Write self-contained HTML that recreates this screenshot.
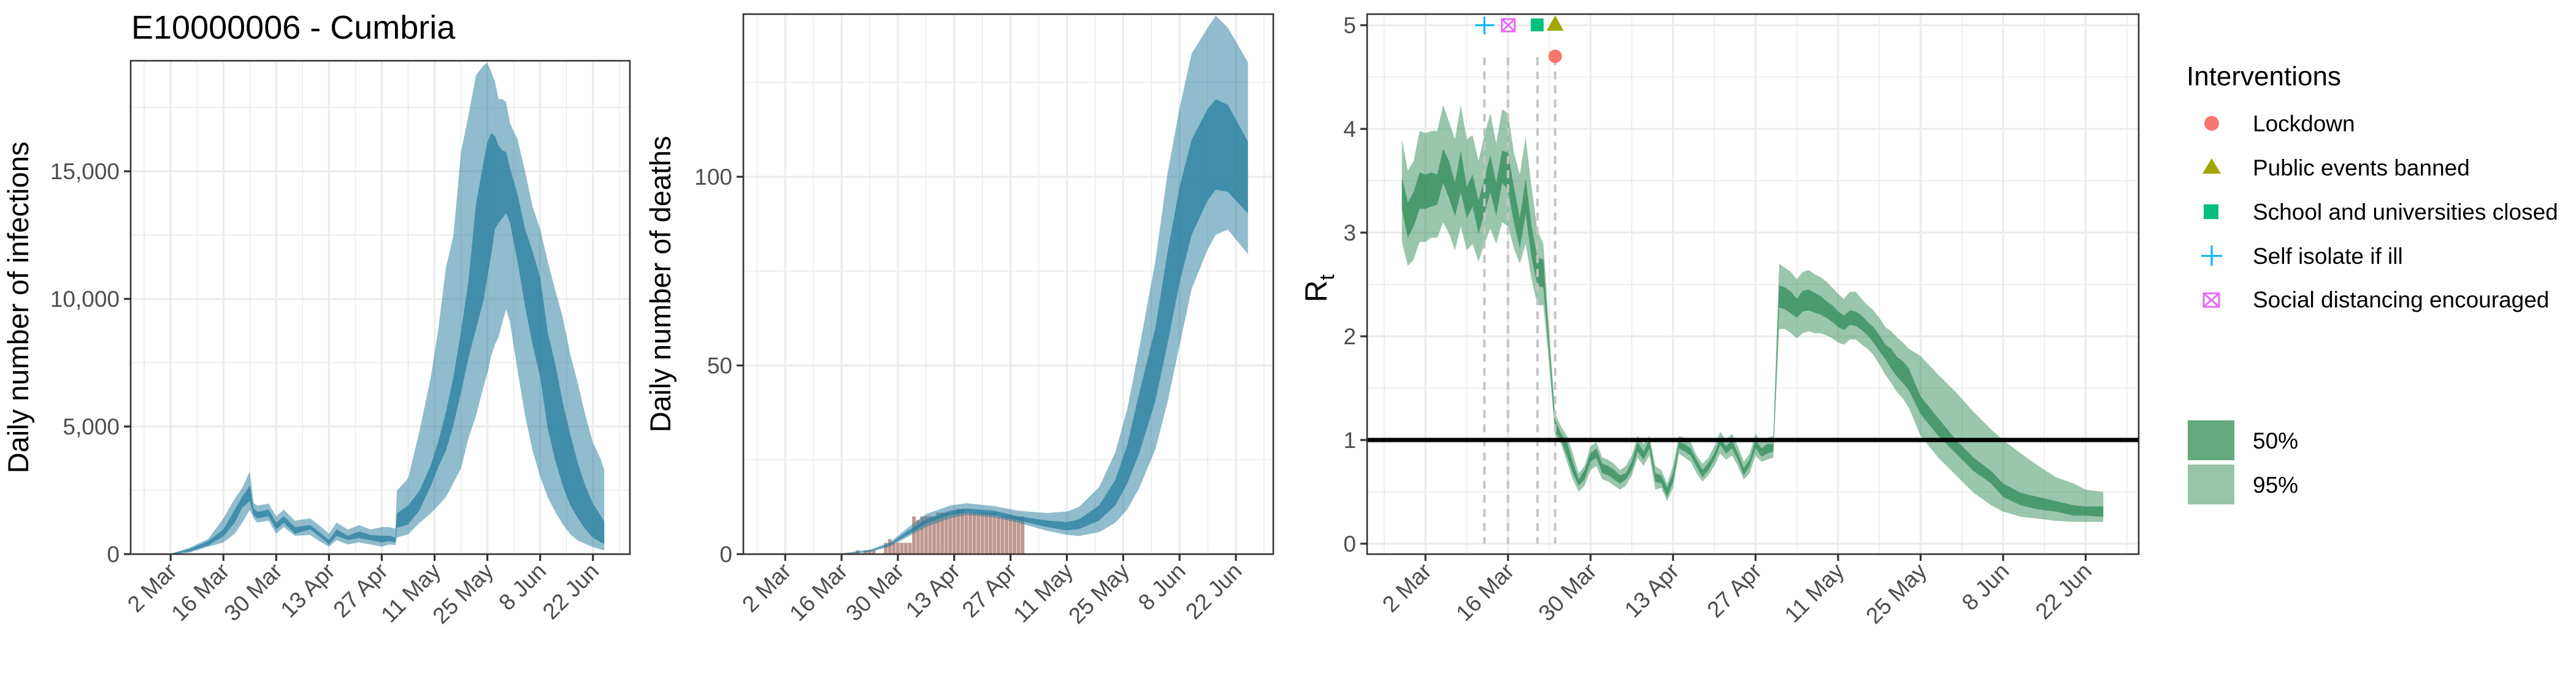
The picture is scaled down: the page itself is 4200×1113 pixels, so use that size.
<!DOCTYPE html>
<html><head><meta charset="utf-8">
<style>
html,body{margin:0;padding:0;background:#fff;}
svg{display:block;font-family:"Liberation Sans",Arial,sans-serif;}
</style></head>
<body>
<svg id="chart" width="4200" height="1113" viewBox="0 0 4200 1113" xmlns="http://www.w3.org/2000/svg">
<rect width="4200" height="1113" fill="#fff"/>
<text x="214" y="63" font-size="54" fill="#000">E10000006 - Cumbria</text>
<g id="p1"></g>
<g id="p2"></g>
<g id="p3"></g>
<g id="legend">
  <text x="3565" y="139" font-size="44" fill="#000">Interventions</text>
  <circle cx="3606" cy="201" r="12" fill="#f8766d"/>
  <text x="3673" y="214" font-size="37">Lockdown</text>
  <polygon points="3591,283 3621,283 3606,258" fill="#a3a500"/>
  <text x="3673" y="286" font-size="37">Public events banned</text>
  <rect x="3593" y="333" width="24" height="24" fill="#00bf7d"/>
  <text x="3673" y="358" font-size="37">School and universities closed</text>
  <path d="M3589,417 H3623 M3606,400 V433" stroke="#00b0f6" stroke-width="3"/>
  <text x="3673" y="430" font-size="37">Self isolate if ill</text>
  <path d="M3593,478 h25 v22 h-25 z M3593,478 L3618,500 M3618,478 L3593,500" stroke="#e76bf3" stroke-width="3" fill="none"/>
  <text x="3673" y="501" font-size="37">Social distancing encouraged</text>
  <rect x="3567" y="685" width="76" height="65" fill="#64a880"/>
  <text x="3673" y="731" font-size="37">50%</text>
  <rect x="3567" y="757" width="76" height="65" fill="#98c4ab"/>
  <text x="3673" y="803" font-size="37">95%</text>
</g>
</svg>
<script>
const tickDays = [0,14,28,42,56,70,84,98,112];
const tickLabels = ["2 Mar","16 Mar","30 Mar","13 Apr","27 Apr","11 May","25 May","8 Jun","22 Jun"];

const infDays = [-8,0,5,10,14,17,19,21,22,23,26,28,30,33,37,40,42,44,47,50,53,56,58,59.6,60,63,66,69,71,73,75,77,79,81,83,84,85,86,87,88,89,90,92,94,96,98,100,102,104,106,108,110,112,114,115];
const infHi95 = [0,20,250,600,1400,2170,2600,3240,2000,1900,1980,1480,1740,1310,1400,1060,800,1230,970,1140,970,1060,1060,1000,2480,2980,4810,6940,8830,11220,12480,15750,17200,18770,19150,19250,18900,18520,17830,17830,17700,16880,16250,15000,13610,12730,11470,10340,9270,7820,6690,5430,4370,3740,3300];
const infLo95 = [0,0,60,290,460,800,1230,1740,1400,1230,1310,800,1060,720,750,460,290,550,380,460,380,290,380,350,650,780,1220,1600,1910,2230,2790,3360,4550,5430,6570,7070,7760,8200,8520,9080,9590,9080,7200,5430,4050,3040,2230,1660,1160,780,530,400,280,190,150];
const infHi50 = [0,10,200,510,970,1740,2250,2680,1800,1650,1750,1230,1480,1060,1140,800,550,970,720,890,750,720,720,650,1600,1910,2480,3480,4430,5560,6940,8700,10720,13740,15370,16130,16500,16380,16000,15810,15750,15120,14110,12730,11850,10840,8700,7450,5940,4680,3550,2670,1980,1530,1280];
const infLo50 = [0,0,100,340,700,1230,1830,2080,1540,1400,1480,970,1230,800,970,630,380,720,550,630,550,460,510,450,1030,1160,1720,2670,3420,4050,5060,6320,7700,8830,9960,10840,11720,12730,12980,13170,13360,12980,11470,9710,8200,6940,4930,3670,2670,1910,1410,970,650,470,400];
const infTicks = [0,5000,10000,15000];
const infTickLabels = ["0","5,000","10,000","15,000"];

const barDays = [18,20,21,22,25,26,27,28,29,30,31,32,33,34,35,36,37,38,39,40,41,42,43,44,45,46,47,48,49,50,51,52,53,54,55,56,57,58,59];
const barDeaths = [1,1,1,1,3,4,3,3,3,3,3,10,9,10,10,10,10,11,11,11,11,11,12,12,11,11,11,11,11,11,11,11,10,10,10,10,10,10,10];
const dDays = [14,21,26,30,35,41,45,52,58,65,70,73,78,82,85,88,92,95,98,101,105,107,110,115];
const dHi95 = [0.2,1.2,3.1,6.6,10.6,12.9,13.5,12.7,11.5,10.9,11.3,12.5,17.7,26.9,38.4,54.6,77.7,100.8,118.1,132.6,139.5,142.7,139.5,130.3];
const dLo95 = [0,0.5,2.0,4.3,7.2,9.5,10.4,9.7,8.3,6.2,5.1,4.8,5.8,8.3,11.8,17.5,27.8,40.2,55.2,70.2,80.8,84.6,86.0,79.5];
const dHi50 = [0.1,0.9,2.7,5.8,9.2,11.5,12.1,11.5,10.0,8.9,8.5,9.2,12.9,19.6,28.9,42.7,60.0,79.9,97.2,109.8,118.0,120.5,119.1,109.3];
const dLo50 = [0.05,0.7,2.4,4.8,8.1,10.4,11.0,10.3,8.9,7.2,6.3,6.6,8.9,12.9,18.7,26.7,40.6,55.7,71.9,84.6,93.8,96.6,96.0,90.3];
const dTicks = [0,50,100];

const rDays = [-4,-3,-2,-1,0,1,2,3,4,5,6,7,8,9,10,11,12,13,14,15,16,17,18,19,20,21,22,23,24,25,26,27,28,29,30,31,32,33,34,35,36,37,38,39,40,41,42,43,44,45,46,47,48,49,50,51,52,53,54,55,56,57,58,59,60,61,62,63,64,65,66,67,68,69,70,71,72,73,74,75,76,77,78,79,80,81,82,84,87,90,93,96,98,101,104,107,110,112,115];
const rHi95 = [3.9,3.6,3.69,3.98,3.96,3.98,3.98,4.23,4.07,3.9,4.23,3.9,3.94,3.69,3.94,4.15,3.86,4.19,4.15,3.77,3.56,3.92,3.44,3.02,2.89,2.05,1.25,1.13,1.04,0.87,0.68,0.75,0.94,0.98,0.83,0.81,0.77,0.71,0.75,0.85,1.04,0.96,1.04,0.75,0.71,0.58,0.75,1.04,1.02,0.98,0.85,0.77,0.83,0.94,1.08,1.0,1.06,0.94,0.79,0.87,1.06,0.98,1.02,1.04,2.70,2.66,2.62,2.55,2.62,2.64,2.60,2.57,2.53,2.47,2.41,2.36,2.43,2.43,2.36,2.30,2.25,2.18,2.09,2.05,1.99,1.94,1.88,1.81,1.63,1.46,1.27,1.10,1.0,0.87,0.75,0.64,0.58,0.52,0.50];
const rLo95 = [2.91,2.68,2.74,2.91,2.91,2.95,2.95,3.10,2.99,2.83,3.06,2.83,2.89,2.72,2.89,3.04,2.89,3.10,3.06,2.85,2.70,2.89,2.55,2.30,2.30,1.71,1.04,0.96,0.79,0.62,0.50,0.56,0.71,0.75,0.62,0.60,0.56,0.52,0.56,0.66,0.83,0.75,0.85,0.52,0.54,0.41,0.54,0.87,0.83,0.79,0.68,0.60,0.66,0.75,0.87,0.81,0.85,0.75,0.62,0.68,0.85,0.79,0.81,0.83,2.07,2.07,2.03,1.98,2.03,2.05,2.03,2.03,2.01,1.98,1.94,1.92,1.97,1.97,1.92,1.88,1.82,1.73,1.63,1.55,1.46,1.40,1.31,1.04,0.83,0.66,0.49,0.37,0.31,0.26,0.24,0.22,0.21,0.21,0.21];
const rHi50 = [3.54,3.29,3.39,3.58,3.56,3.58,3.56,3.81,3.69,3.48,3.79,3.44,3.56,3.31,3.52,3.75,3.48,3.79,3.77,3.44,3.14,3.52,3.06,2.76,2.74,1.92,1.19,1.06,0.98,0.79,0.62,0.71,0.87,0.92,0.77,0.75,0.71,0.66,0.68,0.79,0.98,0.89,1.0,0.68,0.66,0.54,0.68,0.98,0.96,0.92,0.81,0.71,0.78,0.87,1.02,0.94,1.0,0.87,0.73,0.81,1.0,0.92,0.96,0.96,2.49,2.47,2.43,2.36,2.44,2.45,2.42,2.39,2.34,2.30,2.24,2.20,2.25,2.24,2.20,2.14,2.09,2.01,1.92,1.88,1.80,1.76,1.69,1.42,1.21,1.0,0.83,0.70,0.58,0.49,0.45,0.41,0.37,0.36,0.36];
const rLo50 = [3.23,2.95,3.06,3.23,3.23,3.25,3.27,3.48,3.33,3.16,3.39,3.14,3.25,2.99,3.18,3.39,3.16,3.48,3.41,3.10,2.85,3.18,2.76,2.49,2.47,1.82,1.08,1.0,0.85,0.68,0.56,0.62,0.79,0.83,0.68,0.66,0.62,0.58,0.62,0.71,0.89,0.81,0.92,0.60,0.58,0.45,0.60,0.92,0.89,0.85,0.74,0.64,0.71,0.81,0.95,0.87,0.92,0.81,0.66,0.75,0.92,0.84,0.87,0.89,2.28,2.26,2.22,2.18,2.24,2.25,2.23,2.21,2.18,2.14,2.09,2.06,2.11,2.10,2.06,2.01,1.94,1.86,1.78,1.69,1.61,1.55,1.48,1.25,1.04,0.87,0.70,0.58,0.45,0.37,0.33,0.31,0.27,0.27,0.26];
const rTicks = [0,1,2,3,4,5];
const intervNames = ["Self isolate if ill","Social distancing encouraged","School and universities closed","Public events banned","Lockdown"];
const intervDays = [10,14,19,22,22];
const intervY = [5,5,5,5,4.7];

const NS="http://www.w3.org/2000/svg";
function mk(parent, tag, attrs){const e=document.createElementNS(NS,tag);for(const k in attrs)e.setAttribute(k,attrs[k]);parent.appendChild(e);return e;}
function scale(d0,d1,r0,r1){return v=>r0+(v-d0)/(d1-d0)*(r1-r0);}

function panel(g, P, yTicks, yLabels, yMinor, title, titleX){
  const X=P.x, Y=P.y;
  mk(g,'rect',{x:P.x0,y:P.y0,width:P.x1-P.x0,height:P.y1-P.y0,fill:'#fff'});
  const minorX=[-7,7,21,35,49,63,77,91,105,119];
  minorX.forEach(d=>{const l=mk(g,'line',{x1:X(d),x2:X(d),y1:P.y0,y2:P.y1,stroke:'#ebebeb','stroke-width':1.6});
    
    });
  yMinor.forEach(v=>{const l=mk(g,'line',{x1:P.x0,x2:P.x1,y1:Y(v),y2:Y(v),stroke:'#ebebeb','stroke-width':1.6});
    
    });
  tickDays.forEach(d=>{const l=mk(g,'line',{x1:X(d),x2:X(d),y1:P.y0,y2:P.y1,stroke:'#ebebeb','stroke-width':3.2});
    
    });
  yTicks.forEach(v=>{const l=mk(g,'line',{x1:P.x0,x2:P.x1,y1:Y(v),y2:Y(v),stroke:'#ebebeb','stroke-width':3.2});
    
    });
  const data=mk(g,'g',{});
  
  
  P.finish=function(){
    mk(g,'rect',{x:P.x0,y:P.y0,width:P.x1-P.x0,height:P.y1-P.y0,fill:'none',stroke:'#333','stroke-width':2.6});
    tickDays.forEach((d,i)=>{
      const t=mk(g,'line',{x1:X(d),x2:X(d),y1:P.y1,y2:P.y1+11,stroke:'#333','stroke-width':3.2});
      
      
      const tx=X(d)+12, ty=P.y1+30;
      const lb=mk(g,'text',{x:tx,y:ty,'font-size':37,fill:'#4d4d4d','text-anchor':'end',transform:`rotate(-45 ${tx} ${ty})`});
      lb.textContent=tickLabels[i];
      
      
    });
    yTicks.forEach((v,i)=>{
      const t=mk(g,'line',{x1:P.x0-11,x2:P.x0,y1:Y(v),y2:Y(v),stroke:'#333','stroke-width':3.2});
      
      
      const lb=mk(g,'text',{x:P.x0-18,y:Y(v)+13,'font-size':37,fill:'#4d4d4d','text-anchor':'end'});
      lb.textContent=yLabels[i];
      
      
    });
    if(title){
      const cy=(P.y0+P.y1)/2;
      const tt=mk(g,'text',{x:titleX,y:cy,'font-size':47,fill:'#000','text-anchor':'middle',transform:`rotate(-90 ${titleX} ${cy})`});
      tt.textContent=title;
      
      
    }
  };
  return data;
}
function band(g, xs, lo, hi, X, Y, fill, op, name){
  let d='M'+xs.map((x,i)=>X(x).toFixed(1)+','+Y(hi[i]).toFixed(1)).join('L');
  for(let i=xs.length-1;i>=0;i--) d+='L'+X(xs[i]).toFixed(1)+','+Y(lo[i]).toFixed(1);
  const p=mk(g,'path',{d:d+'Z',fill:fill,'fill-opacity':op});
  
  
}

const P1={x0:213,x1:1027,y0:99,y1:903};
P1.x=scale(-10.6,121.8,P1.x0,P1.x1); P1.y=scale(0,19330,P1.y1,P1.y0);
const g1=document.getElementById('p1');
const d1=panel(g1,P1,infTicks,infTickLabels,[2500,7500,12500,17500],'Daily number of infections',46);
band(d1,infDays,infLo95,infHi95,P1.x,P1.y,'#2a7fa0',0.52,'infections-95-band');
band(d1,infDays,infLo50,infHi50,P1.x,P1.y,'#2a7fa0',0.77,'infections-50-band');
P1.finish();

const P2={x0:1212,x1:2076,y0:23,y1:903};
P2.x=scale(-10.4,121.3,P2.x0,P2.x1); P2.y=scale(0,143.1,P2.y1,P2.y0);
const g2=document.getElementById('p2');
const d2=panel(g2,P2,dTicks,["0","50","100"],[25,75,125],'Daily number of deaths',1093);
barDays.forEach((d,i)=>{
  const w=(P2.x(1)-P2.x(0))*0.9;
  const b=mk(d2,'rect',{x:P2.x(d)-w/2,y:P2.y(barDeaths[i]),width:w,height:P2.y(0)-P2.y(barDeaths[i]),fill:'#c19890'});
  
  
});
band(d2,dDays,dLo95,dHi95,P2.x,P2.y,'#2a7fa0',0.52,'deaths-95-band');
band(d2,dDays,dLo50,dHi50,P2.x,P2.y,'#2a7fa0',0.77,'deaths-50-band');
P2.finish();

const P3={x0:2229,x1:3487,y0:23,y1:903};
P3.x=scale(-9.9,121.0,P3.x0,P3.x1); P3.y=scale(-0.1006,5.107,P3.y1,P3.y0);
const g3=document.getElementById('p3');
const d3=panel(g3,P3,rTicks,["0","1","2","3","4","5"],[0.5,1.5,2.5,3.5,4.5],null,0);
band(d3,rDays,rLo95,rHi95,P3.x,P3.y,'#2f8a58',0.49,'rt-95-band');
band(d3,rDays,rLo50,rHi50,P3.x,P3.y,'#2f8a58',0.745,'rt-50-band');
[...new Set(intervDays)].forEach(d=>{
  const l=mk(d3,'line',{x1:P3.x(d),x2:P3.x(d),y1:P3.y(4.75)+10,y2:P3.y(0),stroke:'#c4c4c4','stroke-width':4,'stroke-dasharray':'13 10'});
  
  
});
const ref=mk(d3,'line',{x1:P3.x0,x2:P3.x1,y1:P3.y(1),y2:P3.y(1),stroke:'#000','stroke-width':7});


intervNames.forEach((n,i)=>{
  const cx=P3.x(intervDays[i]), cy=P3.y(intervY[i]);
  let e;
  if(n==="Lockdown") e=mk(d3,'circle',{cx:cx,cy:cy,r:11,fill:'#f8766d'});
  else if(n==="Public events banned") e=mk(d3,'polygon',{points:`${cx-14},${cy+9} ${cx+14},${cy+9} ${cx},${cy-16}`,fill:'#a3a500'});
  else if(n==="School and universities closed") e=mk(d3,'rect',{x:cx-11,y:cy-11,width:21,height:21,fill:'#00bf7d'});
  else if(n==="Self isolate if ill") e=mk(d3,'path',{d:`M${cx-15},${cy} H${cx+16} M${cx},${cy-14} V${cy+15}`,stroke:'#00b0f6','stroke-width':3});
  else e=mk(d3,'path',{d:`M${cx-10},${cy-10} h21 v20 h-21 z M${cx-10},${cy-10} L${cx+11},${cy+10} M${cx+11},${cy-10} L${cx-10},${cy+10}`,stroke:'#e76bf3','stroke-width':3,fill:'none'});
  
  
});
P3.finish();
const rt=mk(g3,'text',{x:2163,y:470,'font-size':50,fill:'#000','text-anchor':'middle',transform:'rotate(-90 2163 470)'});


rt.textContent='R';
const sub=mk(rt,'tspan',{'font-size':34,dy:12});
sub.textContent='t';
</script>
</body></html>
